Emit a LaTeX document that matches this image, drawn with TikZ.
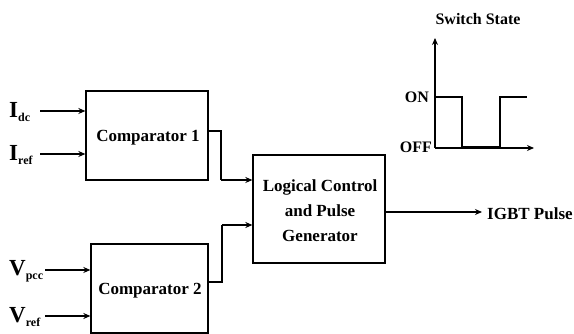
\documentclass[tikz,border=0pt]{standalone}
\usepackage{fontspec}
\setmainfont{Liberation Serif}
\usetikzlibrary{arrows.meta}
\newcommand{\sig}[2]{\fontsize{23}{24}\selectfont #1\raisebox{-4pt}{\fontsize{12}{12}\selectfont #2}}
\begin{document}
\begin{tikzpicture}[x=1pt,y=-1pt,
  blk/.style={draw,line width=1.3pt,inner sep=0pt},
  lbl/.style={font=\bfseries\fontsize{17}{25}\selectfont,inner sep=0pt},
  conn/.style={line width=1.5pt,-{Stealth[length=7pt,width=6pt]}},
  wire/.style={line width=1.5pt}]
\useasboundingbox (0,0) rectangle (574,334);
% blocks
\node[blk,minimum width=122pt,minimum height=89pt] (c1) at (147,135.5) {};
\node[lbl] at (148,138) {Comparator 1};
\node[blk,minimum width=117pt,minimum height=89pt] (c2) at (149.5,288.5) {};
\node[lbl] at (150,291) {Comparator 2};
\node[blk,minimum width=132pt,minimum height=108pt,align=center] (lg) at (319,209) {};
\node[lbl,align=center] at (320,211) {Logical Control\\and Pulse\\Generator};
% inputs
\node[lbl,anchor=west] (idc) at (9,112) {\sig{I}{dc}};
\node[lbl,anchor=west] (iref) at (9,155) {\sig{I}{ref}};
\node[lbl,anchor=west] (vpcc) at (9,271) {\sig{V}{pcc}};
\node[lbl,anchor=west] (vref) at (9,317) {\sig{V}{ref}};
\coordinate (a1) at (40,111); \coordinate (a2) at (40,154);
\coordinate (a3) at (45,270); \coordinate (a4) at (45,316);
\draw[conn] (a1) -- (a1 -| c1.west);
\draw[conn] (a2) -- (a2 -| c1.west);
\draw[conn] (a3) -- (a3 -| c2.west);
\draw[conn] (a4) -- (a4 -| c2.west);
% comparator outputs
\coordinate (o1) at (208,131); \coordinate (o2) at (208,282);
\coordinate (k1) at (221,180); \coordinate (k2) at (222,225);
\coordinate (ol) at (385,212);
\draw[wire] (o1) -- (221,131) -- (k1);
\draw[conn] (k1) -- (k1 -| lg.west);
\draw[wire] (o2) -- (222,282) -- (k2);
\draw[conn] (k2) -- (k2 -| lg.west);
% output
\node[lbl,anchor=west] (igbt) at (487,214) {IGBT Pulse};
\draw[conn,line width=1.3pt] (ol) -- (482,212);
% switch state plot
\node[lbl,font=\bfseries\fontsize{16}{18}\selectfont] (ss) at (478,19) {Switch State};
\coordinate (org) at (435,148);
\draw[line width=1.5pt,-{Stealth[length=7pt,width=6pt]}] (org) -- (435,38);
\draw[line width=1.5pt,-{Stealth[length=7pt,width=6pt]}] (org) -- (534,148);
\draw[line width=1.5pt] (435,97) -- (462,97) -- (462,147) -- (500,147) -- (500,97) -- (527,97);
\node[lbl,font=\bfseries\fontsize{16}{18}\selectfont,anchor=east] (on) at (429,97) {ON};
\node[lbl,font=\bfseries\fontsize{16}{18}\selectfont,anchor=east] (off) at (432,147) {OFF};
\end{tikzpicture}
\end{document}
